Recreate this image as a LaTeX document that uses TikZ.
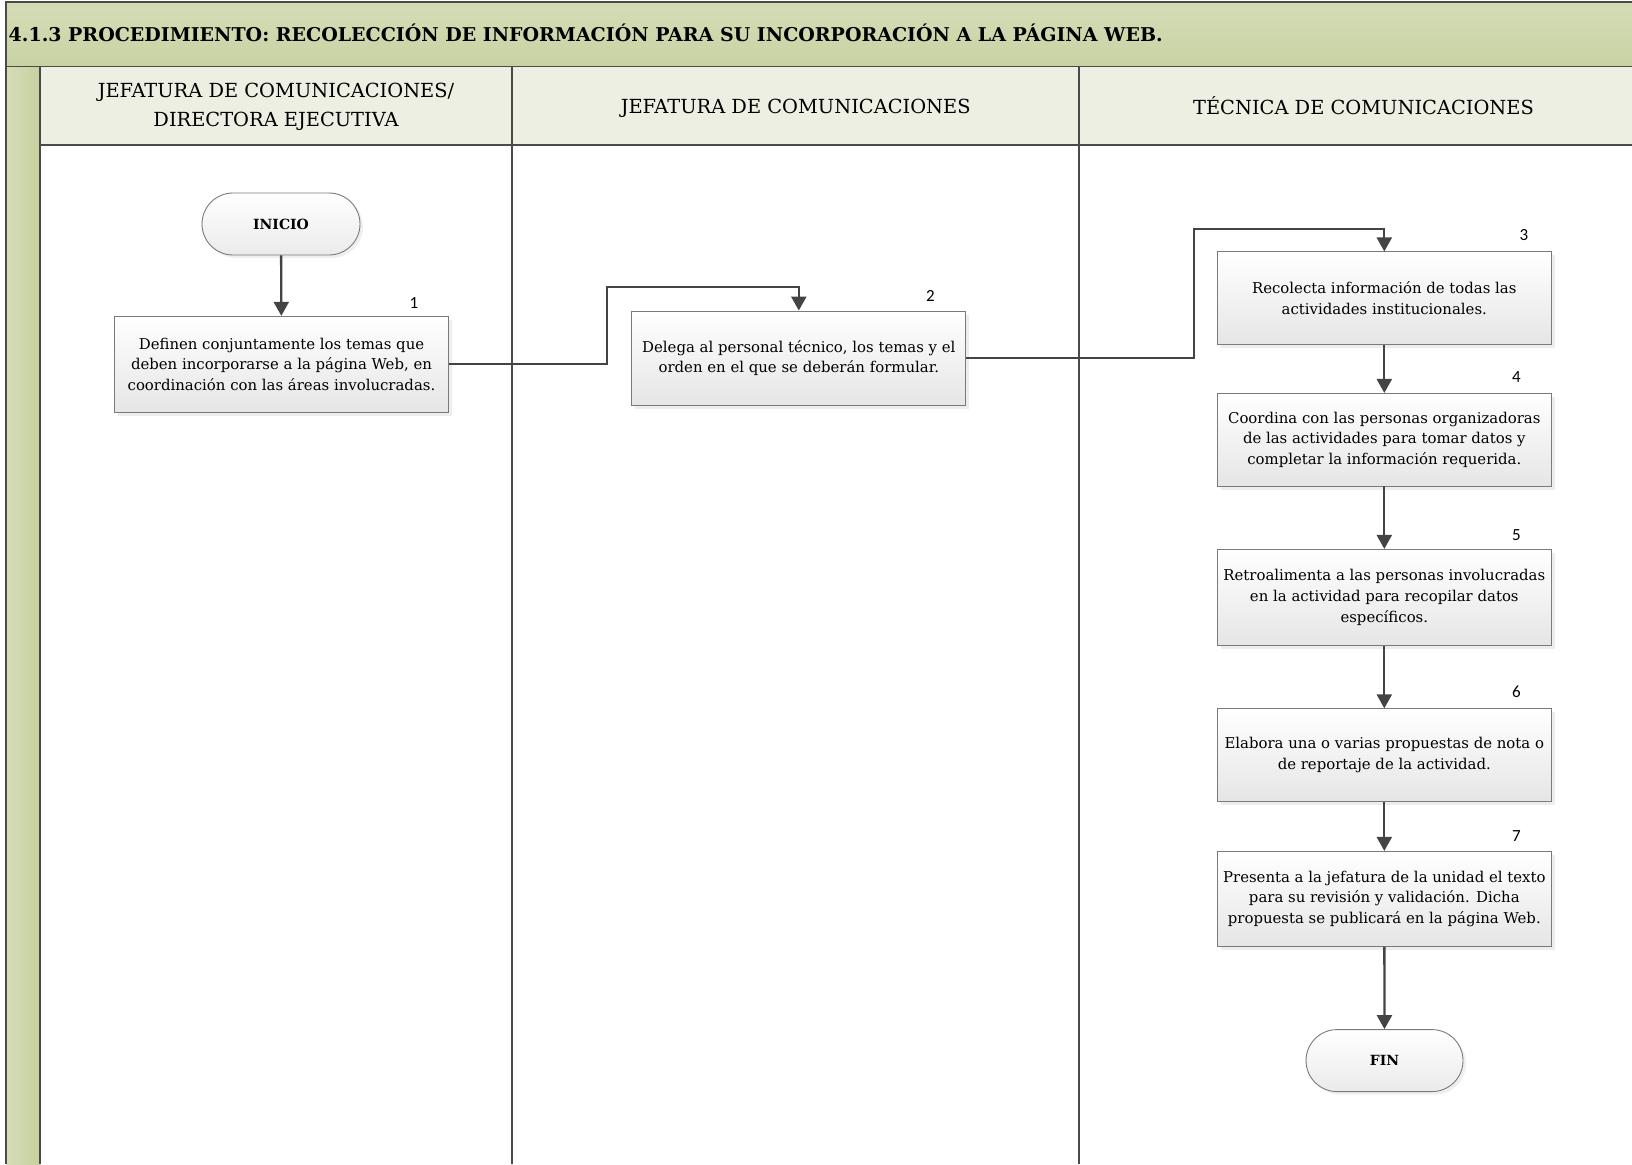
\documentclass[tikz,border=0pt]{standalone}
\usepackage{fontspec}
\setmainfont{DejaVu Serif}
\newfontfamily\numfont{Carlito}
\usetikzlibrary{arrows.meta,shapes.misc,shadows}

\definecolor{bandtop}{HTML}{D4DCB6}
\definecolor{bandbot}{HTML}{C8D3A4}
\definecolor{headfill}{HTML}{ECEFE1}
\definecolor{stripeL}{HTML}{D6DDB8}
\definecolor{stripeR}{HTML}{C6D19F}
\definecolor{framegray}{HTML}{4A4A4A}
\definecolor{linkgray}{HTML}{444444}
\definecolor{boxedge}{HTML}{7A7A7A}

\begin{document}
\begin{tikzpicture}[x=1pt,y=-1pt,
  stepbox/.style={draw=boxedge, line width=0.9pt, top color=white, bottom color=black!10,
    drop shadow={shadow xshift=3.5pt,shadow yshift=-3.5pt,fill=black!14},
    minimum width=334pt, align=center, inner sep=0pt,
    font=\fontsize{14.9}{20.7}\selectfont},
  terminal/.style={rounded rectangle, draw=boxedge, line width=0.9pt,
    top color=white, bottom color=black!8,
    drop shadow={shadow xshift=3pt,shadow yshift=-3pt,fill=black!12},
    minimum width=158pt, minimum height=62pt, inner sep=0pt,
    font=\bfseries\fontsize{14}{19}\selectfont},
  flow/.style={draw=linkgray, line width=2.3pt, -{Triangle[length=14pt,width=15pt]}},
  stepnum/.style={font=\numfont\fontsize{17}{20}\selectfont, inner sep=0pt},
  lanehead/.style={align=center, font=\fontsize{19.4}{28.5}\selectfont, inner sep=0pt},
  frameline/.style={draw=framegray, line width=1.8pt}]

\useasboundingbox (0,0) rectangle (1632,1164);

% title band
\fill[top color=bandtop, bottom color=bandbot] (6,2) rectangle (1632,66.6);
% lane headers
\fill[headfill] (39.6,66.6) rectangle (1632,144.7);
% left stripe
\fill[left color=stripeL, right color=stripeR] (6,66.6) rectangle (39.6,1164);

% frame and lane lines
\draw[frameline] (1632,2) -- (6,2) -- (6,1164);
\draw[frameline] (6,66.6) -- (1632,66.6);
\draw[frameline] (39.6,144.7) -- (1632,144.7);
\draw[frameline] (39.6,66.6) -- (39.6,1164);
\draw[frameline] (512,66.6) -- (512,1164);
\draw[frameline] (1079.3,66.6) -- (1079.3,1164);

\node[anchor=west, inner sep=0pt, font=\bfseries\fontsize{19}{24}\selectfont]
  (title) at (8.5,33) {4.1.3 PROCEDIMIENTO: RECOLECCIÓN DE INFORMACIÓN PARA SU INCORPORACIÓN A LA PÁGINA WEB.};

\node[lanehead] (lane1) at (276,107) {JEFATURA DE COMUNICACIONES/\\DIRECTORA EJECUTIVA};
\node[lanehead] (lane2) at (795.7,108.5) {JEFATURA DE COMUNICACIONES};
\node[lanehead] (lane3) at (1363.5,105.5) {TÉCNICA DE COMUNICACIONES};

% flow nodes
\node[terminal] (inicio) at (281,224) {INICIO};
\node[stepbox, minimum height=96pt] (b1) at (281.5,364.3)
  {Definen conjuntamente los temas que\\deben incorporarse a la página Web, en\\coordinación con las áreas involucradas.};
\node[stepbox, minimum height=94pt] (b2) at (798.8,358)
  {Delega al personal técnico, los temas y el\\orden en el que se deberán formular.};
\node[stepbox, minimum height=92.6pt] (b3) at (1384.3,298.2)
  {Recolecta información de todas las\\actividades institucionales.};
\node[stepbox, minimum height=92.6pt] (b4) at (1384.3,439.7)
  {Coordina con las personas organizadoras\\de las actividades para tomar datos y\\completar la información requerida.};
\node[stepbox, minimum height=96pt] (b5) at (1384.3,597.4)
  {Retroalimenta a las personas involucradas\\en la actividad para recopilar datos\\específicos.};
\node[stepbox, minimum height=92.6pt] (b6) at (1384.3,755.1)
  {Elabora una o varias propuestas de nota o\\de reportaje de la actividad.};
\node[stepbox, minimum height=94.7pt] (b7) at (1384.3,898.7)
  {Presenta a la jefatura de la unidad el texto\\para su revisión y validación. Dicha\\propuesta se publicará en la página Web.};
\node[terminal, minimum width=157pt] (fin) at (1384.5,1060.6) {FIN};

% step numbers
\node[stepnum] (n1) at (414,303) {1};
\node[stepnum] (n2) at (930.5,295.6) {2};
\node[stepnum] (n3) at (1523.8,235.2) {3};
\node[stepnum] (n4) at (1516.5,376.8) {4};
\node[stepnum] (n5) at (1516.5,535) {5};
\node[stepnum] (n6) at (1516.5,692) {6};
\node[stepnum] (n7) at (1516.5,835.8) {7};

% connectors
\coordinate (j1) at (606.8,287.3);
\coordinate (j2) at (1194.3,229);
\draw[flow] (inicio) -- (b1);
\draw[flow] (b1.east) -| (j1) -| (b2.north);
\draw[flow] (b2.east) -| (j2) -| (b3.north);
\draw[flow] (b3) -- (b4);
\draw[flow] (b4) -- (b5);
\draw[flow] (b5) -- (b6);
\draw[flow] (b6) -- (b7);
\draw[flow] (b7) -- (fin);
\end{tikzpicture}
\end{document}
